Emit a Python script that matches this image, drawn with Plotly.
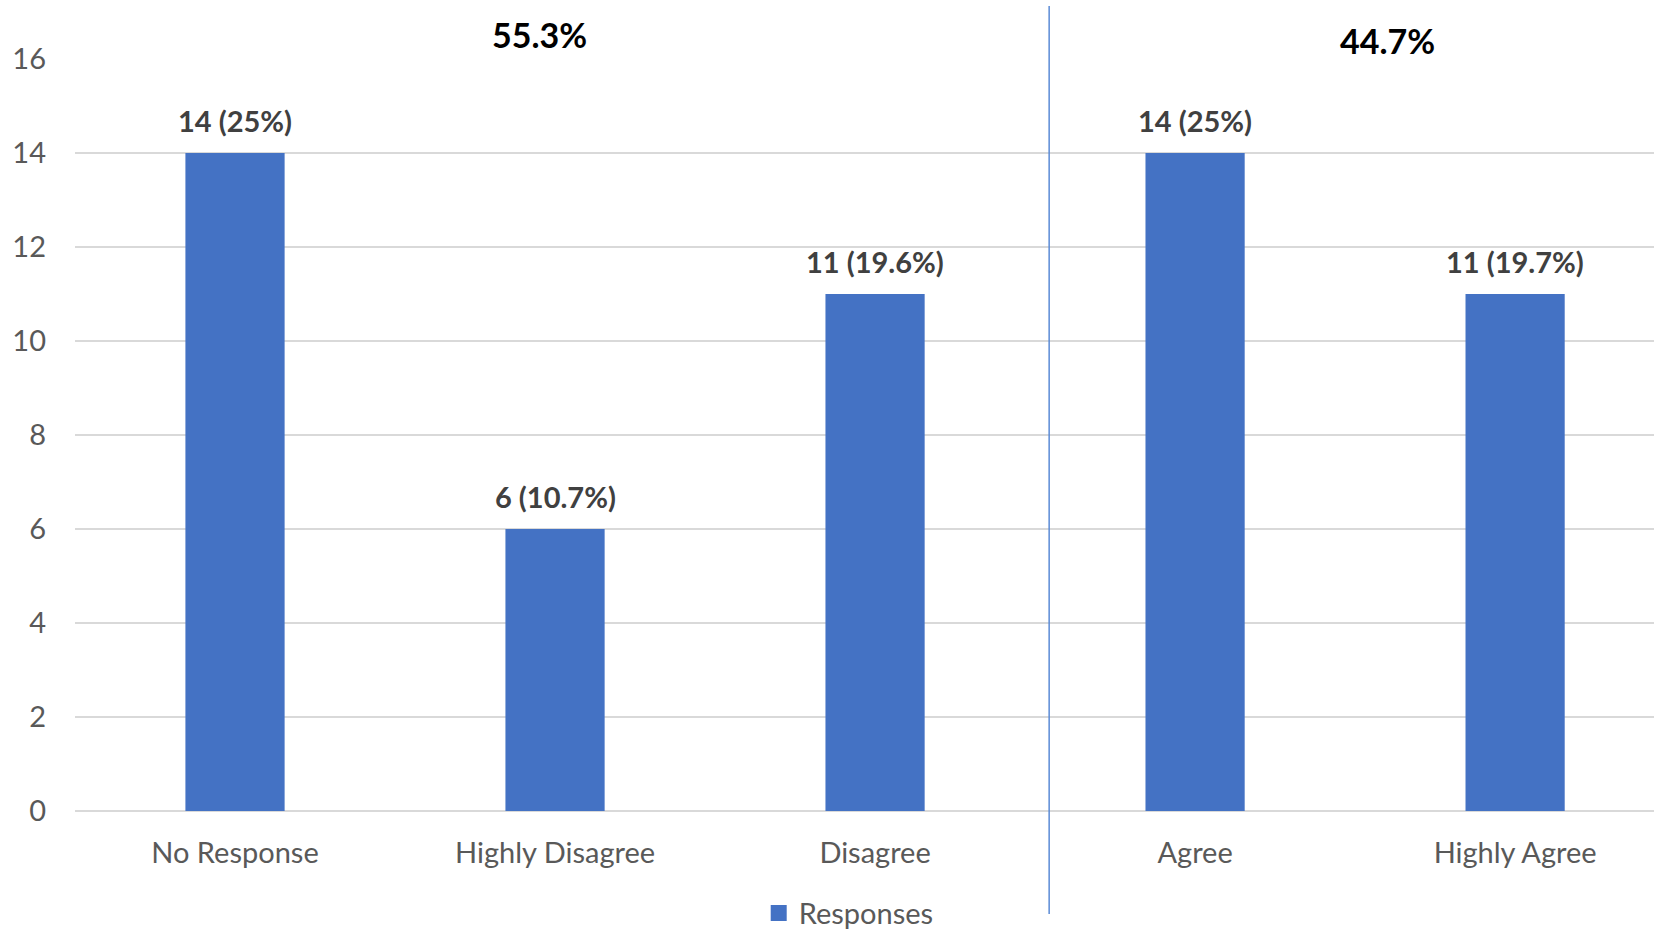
import plotly.graph_objects as go

categories = ["No Response", "Highly Disagree", "Disagree", "Agree", "Highly Agree"]
responses = [14, 6, 11, 14, 11]
labels = ["14 (25%)", "6 (10.7%)", "11 (19.6%)", "14 (25%)", "11 (19.7%)"]
group_labels = ["55.3%", "44.7%"]
group_x = [0.95, 3.6]
group_y = [1.032, 1.024]
y_ticks = [0, 2, 4, 6, 8, 10, 12, 14, 16]

FONT = "Lato"
xs = list(range(len(categories)))

fig = go.Figure()
fig.add_trace(go.Bar(
    x=xs,
    y=responses,
    name="Responses",
    marker=dict(color="#4472C4", line=dict(width=0)),
    width=0.31,
    cliponaxis=False,
    showlegend=False,
))
# legend entry with a larger square swatch
fig.add_trace(go.Scatter(
    x=[None], y=[None], mode="markers", name="Responses",
    marker=dict(symbol="square", size=17, color="#4472C4"),
    showlegend=True,
))

for xv, yv, lab in zip(xs, responses, labels):
    fig.add_annotation(x=xv, y=yv, xref="x", yref="y", text="<b>" + lab + "</b>",
                       showarrow=False, font=dict(family=FONT, size=29, color="#404040"),
                       xanchor="center", yanchor="bottom", yshift=13)

for t, gx, gy in zip(group_labels, group_x, group_y):
    fig.add_annotation(x=gx, y=gy, xref="x", yref="paper", text="<b>" + t + "</b>",
                       showarrow=False, font=dict(family=FONT, size=34, color="#000000"),
                       xanchor="center", yanchor="middle")

fig.add_shape(type="line", xref="x", yref="paper", x0=2.544, x1=2.544, y0=-0.137, y1=1.0705,
              line=dict(color="#5B8BD6", width=1.5))

fig.update_layout(
    width=1654, height=930,
    margin=dict(l=75, r=0, t=59, b=119, autoexpand=False),
    paper_bgcolor="white", plot_bgcolor="white",
    font=dict(family=FONT, size=29, color="#595959"),
    bargap=0.69,
    showlegend=True,
    legend=dict(orientation="h", x=0.49, xanchor="center", y=0.018, yanchor="middle",
                yref="container", itemsizing="trace",
                font=dict(family=FONT, size=29, color="#595959"), itemwidth=30),
    xaxis=dict(
        range=[-0.5, 4.434], automargin=False,
        tickmode="array", tickvals=xs, ticktext=categories,
        showgrid=False, zeroline=False, showline=False, ticks="",
        ticklabelstandoff=22,
        tickfont=dict(family=FONT, size=29, color="#595959"),
    ),
    yaxis=dict(
        range=[0, 16], tickvals=y_ticks, automargin=False,
        showgrid=True, gridcolor="#D9D9D9", gridwidth=1.5,
        zeroline=True, zerolinecolor="#D9D9D9", zerolinewidth=2,
        showline=False, ticks="", ticklabelstandoff=28,
        tickfont=dict(family=FONT, size=29, color="#595959"),
    ),
)

fig.write_html("out.html")
